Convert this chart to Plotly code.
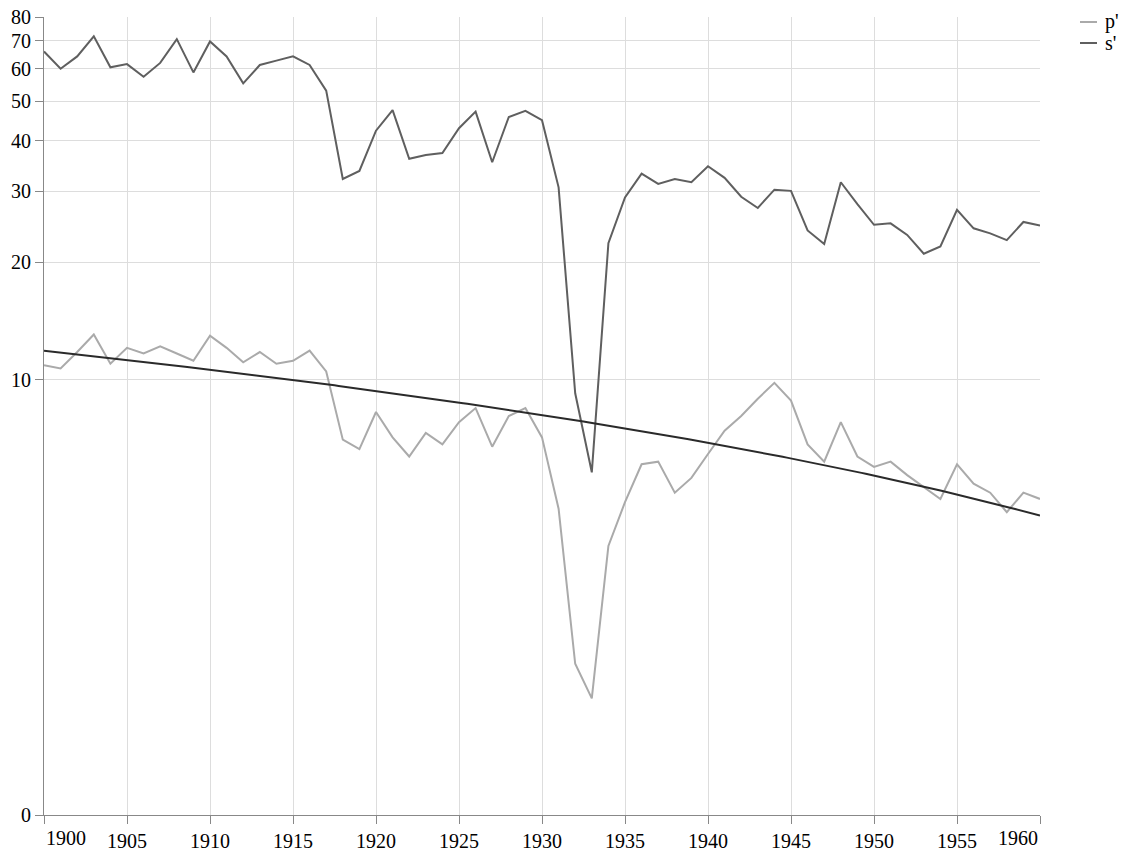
import numpy as np
import plotly.graph_objects as go

years = list(range(1900, 1961))

p_prime = [10.9, 10.7, 11.8, 13.1, 11.0, 12.1, 11.7, 12.2, 11.7, 11.2,
           13.0, 12.1, 11.1, 11.8, 11.0, 11.2, 11.9, 10.5, 6.9, 6.5,
           8.2, 7.0, 6.2, 7.2, 6.7, 7.7, 8.4, 6.6, 8.0, 8.4,
           7.0, 4.4, 1.3, 0.9, 3.4, 4.6, 5.9, 6.0, 4.9, 5.4,
           6.3, 7.3, 8.0, 8.9, 9.8, 8.8, 6.7, 6.0, 7.7, 6.2,
           5.8, 6.0, 5.5, 5.1, 4.7, 5.9, 5.2, 4.9, 4.3, 4.9,
           4.7]

s_prime = [66.0, 59.9, 64.2, 71.8, 60.4, 61.5, 57.3, 61.9, 70.7, 58.7,
           69.8, 64.2, 55.2, 61.2, 62.7, 64.2, 61.2, 53.0, 32.2, 33.7,
           42.3, 47.5, 36.1, 36.9, 37.3, 42.9, 47.1, 35.4, 45.7, 47.3,
           44.9, 30.7, 9.2, 5.6, 22.3, 29.0, 33.2, 31.3, 32.2, 31.6,
           34.6, 32.4, 29.1, 27.3, 30.3, 30.1, 24.0, 22.2, 31.6, 27.9,
           24.8, 25.0, 23.4, 21.0, 21.9, 27.0, 24.3, 23.6, 22.7, 25.2,
           24.7]

# straight trend line (in value space), defined by its end points
trend_years = [1900, 1960]
trend_values = [11.9, 4.2]

y_ticks = [0, 10, 20, 30, 40, 50, 60, 70, 80]
x_ticks = list(range(1900, 1961, 5))

series_names = ["p'", "s'"]
series_colors = ["#aaaaaa", "#5f5f5f"]
trend_color = "#2a2a2a"

FONT = "Liberation Serif"
FS = 20

# symlog-like scale: plot (1 + v) on a log axis
def sl(vals):
    return [v + 1 for v in vals]

# sample the straight trend line so it renders correctly on the nonlinear axis
ty = np.linspace(trend_years[0], trend_years[1], 241)
tv = np.interp(ty, trend_years, trend_values)

fig = go.Figure()
fig.add_trace(go.Scatter(x=years, y=sl(p_prime), mode="lines", name=series_names[0],
                         line=dict(color=series_colors[0], width=2), showlegend=False))
fig.add_trace(go.Scatter(x=years, y=sl(s_prime), mode="lines", name=series_names[1],
                         line=dict(color=series_colors[1], width=2), showlegend=False))
fig.add_trace(go.Scatter(x=ty, y=sl(tv), mode="lines", name="trend",
                         line=dict(color=trend_color, width=2), showlegend=False))

L, R, T, B = 44, 96, 17, 38
W, H = 1136, 853
pw, ph = W - L - R, H - T - B

def px_x(px):
    return (px - L) / pw

def px_y(py):
    return (H - B - py) / ph

fig.update_layout(
    width=W, height=H,
    margin=dict(l=L, r=R, t=T, b=B, pad=0, autoexpand=False),
    paper_bgcolor="white", plot_bgcolor="white",
    font=dict(family=FONT, size=FS, color="#000"),
    showlegend=False,
)
fig.update_xaxes(
    range=[1900, 1960], tickvals=x_ticks,
    ticktext=["" if t in (1900, 1960) else str(t) for t in x_ticks],
    showgrid=True, gridcolor="#dddddd", gridwidth=1,
    showline=True, linecolor="#888888", linewidth=1,
    ticks="outside", ticklen=8, tickcolor="#888888", tickwidth=1,
    zeroline=False, automargin=False, tickfont=dict(family=FONT, size=FS),
)
fig.update_yaxes(
    type="log", range=[0, np.log10(81)],
    tickvals=sl(y_ticks), ticktext=[str(t) for t in y_ticks],
    showgrid=True, gridcolor="#dddddd", gridwidth=1,
    showline=True, linecolor="#888888", linewidth=1,
    ticks="outside", ticklen=8, tickcolor="#888888", tickwidth=1,
    zeroline=False, automargin=False, tickfont=dict(family=FONT, size=FS),
)

annotations = []
# flush first/last x labels
annotations.append(dict(x=1900, y=0, xref="x", yref="paper", text="1900", showarrow=False,
                        xanchor="left", yanchor="top", yshift=-10,
                        font=dict(family=FONT, size=FS)))
annotations.append(dict(x=1960, y=0, xref="x", yref="paper", text="1960", showarrow=False,
                        xanchor="right", yanchor="top", yshift=-10,
                        font=dict(family=FONT, size=FS)))

# manual legend
shapes = []
leg_y = [22, 43]
for name, col, py in zip(series_names, series_colors, leg_y):
    shapes.append(dict(type="line", xref="paper", yref="paper",
                       x0=px_x(1080), x1=px_x(1097), y0=px_y(py), y1=px_y(py),
                       line=dict(color=col, width=2)))
    annotations.append(dict(x=px_x(1103), y=px_y(py), xref="paper", yref="paper",
                            text=name, showarrow=False, xanchor="left", yanchor="middle",
                            font=dict(family=FONT, size=FS)))

fig.update_layout(annotations=annotations, shapes=shapes)

fig.write_html("out.html")
